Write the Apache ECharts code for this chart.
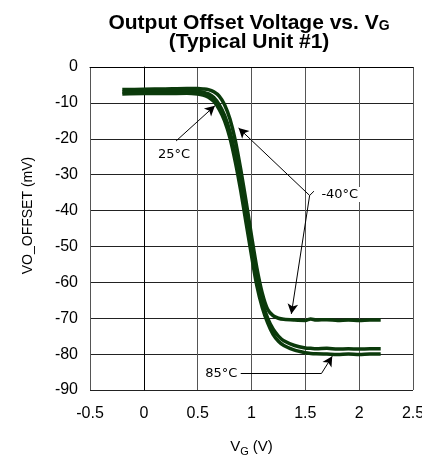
<!DOCTYPE html>
<html><head><meta charset="utf-8">
<script src="https://cdn.jsdelivr.net/npm/echarts@6/dist/echarts.min.js"></script>
<style>html,body{margin:0;padding:0;background:#fff}#c{width:422px;height:457px}</style>
</head><body><div id="c"></div>
<script>
const xTicks = [-0.5, 0, 0.5, 1, 1.5, 2, 2.5];
const yTicks = [0, -10, -20, -30, -40, -50, -60, -70, -80, -90];
const vg = [-0.2, 0, 0.2, 0.4, 0.5, 0.55, 0.6, 0.65, 0.7, 0.75, 0.8, 0.85, 0.9, 0.95, 1.0, 1.05, 1.1, 1.15, 1.2, 1.25, 1.3, 1.4, 1.5, 1.55, 1.6, 1.7, 1.8, 1.9, 2.0, 2.1, 2.2];
const vM40 = [-6.3, -6.2, -6.1, -6.0, -6.0, -6.1, -6.3, -6.9, -8.1, -10.5, -14.5, -20.5, -28.5, -37.5, -47, -56, -63, -67.5, -69.3, -70, -70.3, -70.5, -70.6, -70.2, -70.5, -70.4, -70.6, -70.5, -70.6, -70.5, -70.5];
const v25 = [-7.0, -6.9, -6.8, -6.7, -6.8, -7.0, -7.5, -8.5, -10.5, -13.5, -18, -24.5, -32.5, -41.5, -50.5, -59, -65.5, -70, -73, -75, -76.3, -77.6, -78.3, -78.4, -78.5, -78.4, -78.6, -78.5, -78.6, -78.5, -78.5];
const v85 = [-7.5, -7.4, -7.4, -7.3, -7.5, -7.8, -8.4, -9.6, -11.8, -15, -19.8, -26.5, -34.5, -43.5, -52.5, -61, -67, -71.3, -74.5, -76.4, -77.6, -78.9, -79.6, -79.8, -79.9, -80, -80.1, -80, -80.1, -80, -80];
const labels = ['25°C', '-40°C', '85°C'];
const labelAt = [[0.28, -24.3], [1.82, -35.5], [0.72, -85.4]];
const arrows = [
  [[0.30, -20.6], [0.66, -10.8], true],
  [[1.54, -35.8], [0.88, -17.0], true],
  [[1.54, -35.8], [1.37, -68.8], true],
  [[1.54, -35.8], [1.58, -34.6], false],
  [[0.90, -85.4], [1.65, -85.4], false],
  [[1.65, -85.4], [1.75, -80.6], true]
];

const chart = echarts.init(document.getElementById('c'));
const lineColor = '#0b3a0b';
function mk(vals){ return vg.map((x,i)=>[x, vals[i]]); }
const series = [vM40, v25, v85].map(v => ({
  type: 'line', data: mk(v), showSymbol: false, smooth: 0.3,
  lineStyle: {color: lineColor, width: 3.5}, animation: false, silent: true
}));
series.push({
  type: 'line', data: [], silent: true, animation: false,
  markLine: {
    silent: true, animation: false,
    symbolSize: [8, 10],
    lineStyle: {color: '#000', width: 1, type: 'solid'},
    label: {show: false},
    data: arrows.map(a => [
      {coord: a[0], symbol: 'none'},
      {coord: a[1], symbol: a[2] ? 'arrow' : 'none'}
    ])
  },
  markPoint: {
    silent: true, animation: false, symbol: 'circle', symbolSize: 0,
    label: {show: true, position: 'inside', color: '#000', fontFamily: 'DejaVu Sans', fontSize: 13,
      formatter: p => p.name, backgroundColor: '#fff', padding: [1, 2]},
    data: labels.map((t,i) => ({name: t, coord: labelAt[i]}))
  }
});

chart.setOption({
  animation: false,
  title: {
    text: '{a|Output Offset Voltage vs. V}{s|G}\n{a|(Typical Unit #1)}',
    left: 244, top: 9, textAlign: 'center',
    textStyle: {
      rich: {
        a: {fontFamily: 'Liberation Sans', fontWeight: 'bold', fontSize: 21, color: '#000', lineHeight: 19},
        s: {fontFamily: 'Liberation Sans', fontWeight: 'bold', fontSize: 14, color: '#000', verticalAlign: 'bottom', padding: [10, 0, 0, 0], lineHeight: 19}
      }
    }
  },
  grid: {left: 90, top: 67, right: 9, bottom: 67, containLabel: false, outerBoundsMode: 'none'},
  xAxis: {
    type: 'value', min: -0.5, max: 2.5, interval: 0.5,
    axisLine: {lineStyle: {color: '#000', width: 1}}, axisTick: {show: false},
    axisLabel: {color: '#000', fontFamily: 'Liberation Sans', fontSize: 16, margin: 16,
      formatter: v => xTicks.includes(v) ? String(v) : ''},
    splitLine: {show: true, lineStyle: {color: '#555', width: 1}},
    name: '{a|V}{s|G}{a| (V)}', nameLocation: 'middle', nameGap: 47,
    nameTextStyle: {rich: {
      a: {fontFamily: 'Liberation Sans', fontSize: 15, color: '#000'},
      s: {fontFamily: 'Liberation Sans', fontSize: 11, color: '#000', padding: [9, 0, 0, 0]}
    }}
  },
  yAxis: {
    type: 'value', min: -90, max: 0, interval: 10,
    axisLine: {show: true, lineStyle: {color: '#000', width: 1}}, axisTick: {show: false},
    axisLabel: {color: '#000', fontFamily: 'Liberation Sans', fontSize: 16, margin: 12,
      formatter: v => yTicks.includes(v) ? String(v) : ''},
    splitLine: {show: true, lineStyle: {color: '#222', width: 1}},
    name: 'VO_OFFSET (mV)', nameLocation: 'middle', nameGap: 55, nameRotate: 90,
    nameTextStyle: {fontFamily: 'Liberation Sans', fontSize: 14, color: '#000', padding: [0, 0, 0, 26]}
  },
  series: series
});
</script></body></html>
